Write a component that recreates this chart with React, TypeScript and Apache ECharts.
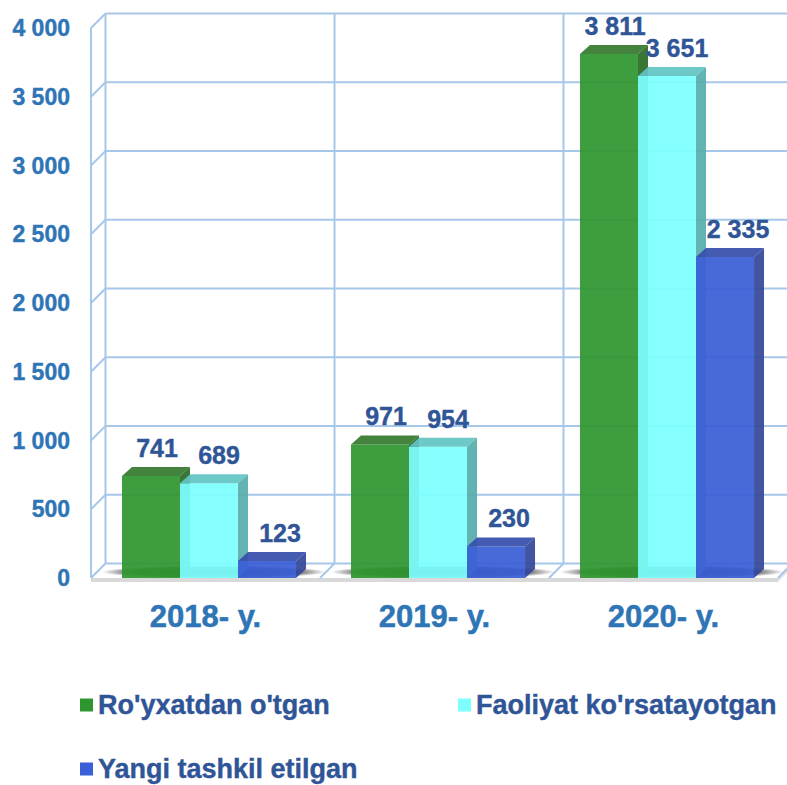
import React, { useEffect, useRef } from "react";
import * as echarts from "echarts";

const categories = ["2018- y.", "2019- y.", "2020- y."];
const registered = [741, 971, 3811];
const active = [689, 954, 3651];
const newlyCreated = [123, 230, 2335];
const seriesNames = ["Ro'yxatdan o'tgan", "Faoliyat ko'rsatayotgan", "Yangi tashkil etilgan"];
const yMin = 0;
const yMax = 4000;
const yStep = 500;

const FONT = '"Liberation Sans", Arial, Helvetica, sans-serif';
const GRID_COLOR = "#a7c7ea";
const D = 14.5; // wall depth
const BD = 10; // bar depth x
const BDY = 9; // bar depth y
const GROUP_START = 0.1354;
const BAR_W = 0.2533;
const OPACITY = 0.93;

const palettes = [
  { front: "#2f962f", top: "#357a2e", side: "#2a6b26" },
  { front: "#7dffff", top: "#62c4c4", side: "#58adad" },
  { front: "#3a5fd6", top: "#374fab", side: "#35489a" },
];
const labelShift = [1, 5, 8];

const fmt = (v: number) => String(v).replace(/\B(?=(\d{3})+(?!\d))/g, " ");

export default function App() {
  const ref = useRef<HTMLDivElement>(null);
  useEffect(() => {
    if (!ref.current) return;
    const chart = echarts.init(ref.current, undefined, { renderer: "svg" });

    const bgRender = (params: any, api: any) => {
      const cs = params.coordSys;
      const x = cs.x;
      const top = cs.y;
      const w = cs.width;
      const y0 = cs.y + cs.height;
      const band = w / categories.length;
      const children: any[] = [];
      const ls = { stroke: GRID_COLOR, lineWidth: 2 };
      // floor front face
      children.push({
        type: "rect",
        shape: { x: x, y: y0, width: w, height: 4 },
        style: { fill: "#d9d9d9" },
      });
      children.push({
        type: "polygon",
        shape: { points: [[x + w, y0], [x + w + D, y0 - D], [x + w + D, y0 - D + 4], [x + w, y0 + 4]] },
        style: { fill: "#e6e6e6" },
      });
      for (let v = yMin; v <= yMax; v += yStep) {
        const yy = api.coord([0, v])[1];
        children.push({ type: "line", shape: { x1: x + D, y1: yy - D, x2: x + w + D, y2: yy - D }, style: ls });
        children.push({ type: "line", shape: { x1: x, y1: yy, x2: x + D, y2: yy - D }, style: ls });
      }
      for (let k = 0; k <= categories.length; k++) {
        children.push({
          type: "line",
          shape: { x1: x + D + k * band, y1: top - D, x2: x + D + k * band, y2: y0 - D },
          style: ls,
        });
        if (k > 0) {
          children.push({
            type: "line",
            shape: { x1: x + k * band, y1: y0, x2: x + k * band + D, y2: y0 - D },
            style: ls,
          });
        }
      }
      children.push({ type: "line", shape: { x1: x, y1: top, x2: x, y2: y0 }, style: ls });
      // shadows under the bar groups
      for (let k = 0; k < categories.length; k++) {
        const gx0 = x + k * band + band * GROUP_START;
        const gw = band * BAR_W * 3 + BD;
        children.push({
          type: "ellipse",
          shape: { cx: gx0 + gw / 2, cy: y0 - 6, rx: gw / 2 + 20, ry: 6.5 },
          style: {
            fill: {
              type: "radial",
              x: 0.5,
              y: 0.5,
              r: 0.5,
              colorStops: [
                { offset: 0, color: "rgba(0,0,0,0.85)" },
                { offset: 0.75, color: "rgba(0,0,0,0.6)" },
                { offset: 1, color: "rgba(0,0,0,0)" },
              ],
            },
          },
        });
      }
      return { type: "group", children };
    };

    const makeBarRender = (si: number) => (params: any, api: any) => {
      const idx = api.value(0);
      const val = api.value(1);
      const band = api.size([1, 0])[0];
      const base = api.coord([idx, 0]);
      const yTop = api.coord([idx, val])[1];
      const yBot = base[1];
      const left = base[0] - band / 2;
      const bw = band * BAR_W;
      const x0 = left + band * (GROUP_START + si * BAR_W);
      const p = palettes[si];
      return {
        type: "group",
        children: [
          {
            type: "rect",
            shape: { x: x0, y: yTop, width: bw, height: yBot - yTop },
            style: { fill: p.front, opacity: OPACITY },
          },
          {
            type: "polygon",
            shape: { points: [[x0, yTop], [x0 + BD, yTop - BDY], [x0 + bw + BD, yTop - BDY], [x0 + bw, yTop]] },
            style: { fill: p.top, opacity: OPACITY },
          },
          {
            type: "polygon",
            shape: { points: [[x0 + bw, yTop], [x0 + bw + BD, yTop - BDY], [x0 + bw + BD, yBot - BDY], [x0 + bw, yBot]] },
            style: { fill: p.side, opacity: OPACITY },
          },
          {
            type: "text",
            style: {
              text: fmt(val),
              x: x0 + bw / 2 + BD / 2 + labelShift[si],
              y: yTop - BDY - 19,
              align: "center",
              verticalAlign: "middle",
              fontSize: 25,
              fontWeight: "bold",
              fontFamily: FONT,
              fill: "#2f5597",
              stroke: "#2f5597",
              lineWidth: 0.4,
            },
            z2: 10,
          },
        ],
      };
    };

    const seriesData = [registered, active, newlyCreated];

    const legendCommon = {
      icon: "rect",
      itemWidth: 13,
      itemHeight: 13,
      itemGap: 6,
      padding: 0,
      textStyle: {
        fontSize: 27,
        fontWeight: "bold",
        color: "#2f5597",
        fontFamily: FONT,
        lineHeight: 28,
        textBorderColor: "#2f5597",
        textBorderWidth: 0.4,
      },
    };

    chart.setOption({
      animation: false,
      backgroundColor: "#ffffff",
      grid: { left: 91, right: 9, top: 28, bottom: 207, containLabel: false },
      legend: [
        { ...legendCommon, data: [seriesNames[0]], left: 80, top: 691 },
        { ...legendCommon, data: [seriesNames[1]], left: 458, top: 691 },
        { ...legendCommon, data: [seriesNames[2]], left: 80, top: 755 },
      ],
      xAxis: {
        type: "category",
        data: categories,
        axisLine: { show: false },
        axisTick: { show: false },
        splitLine: { show: false },
        axisLabel: {
          fontSize: 31,
          fontWeight: "bold",
          color: "#2e75b6",
          fontFamily: FONT,
          margin: 23,
          textBorderColor: "#2e75b6",
          textBorderWidth: 0.5,
        },
      },
      yAxis: {
        type: "value",
        min: yMin,
        max: yMax,
        interval: yStep,
        axisLine: { show: false },
        axisTick: { show: false },
        splitLine: { show: false },
        axisLabel: {
          fontSize: 23,
          fontWeight: "bold",
          color: "#2e75b6",
          fontFamily: FONT,
          margin: 21,
          textBorderColor: "#2e75b6",
          textBorderWidth: 0.4,
          formatter: (v: number) => fmt(v),
        },
      },
      series: [
        {
          type: "custom",
          name: "bg",
          silent: true,
          renderItem: bgRender,
          data: [[0, 0]],
          encode: { x: 0, y: 1 },
          z: 1,
        },
        ...seriesData.map((vals, si) => ({
          type: "custom",
          name: seriesNames[si],
          renderItem: makeBarRender(si),
          itemStyle: { color: palettes[si].front },
          data: vals.map((v, i) => [i, v]),
          encode: { x: 0, y: 1 },
          z: 2 + si,
        })),
      ],
    });
    return () => chart.dispose();
  }, []);
  return <div ref={ref} style={{ position: "absolute", left: 0, top: 0, width: 787, height: 785 }} />;
}
